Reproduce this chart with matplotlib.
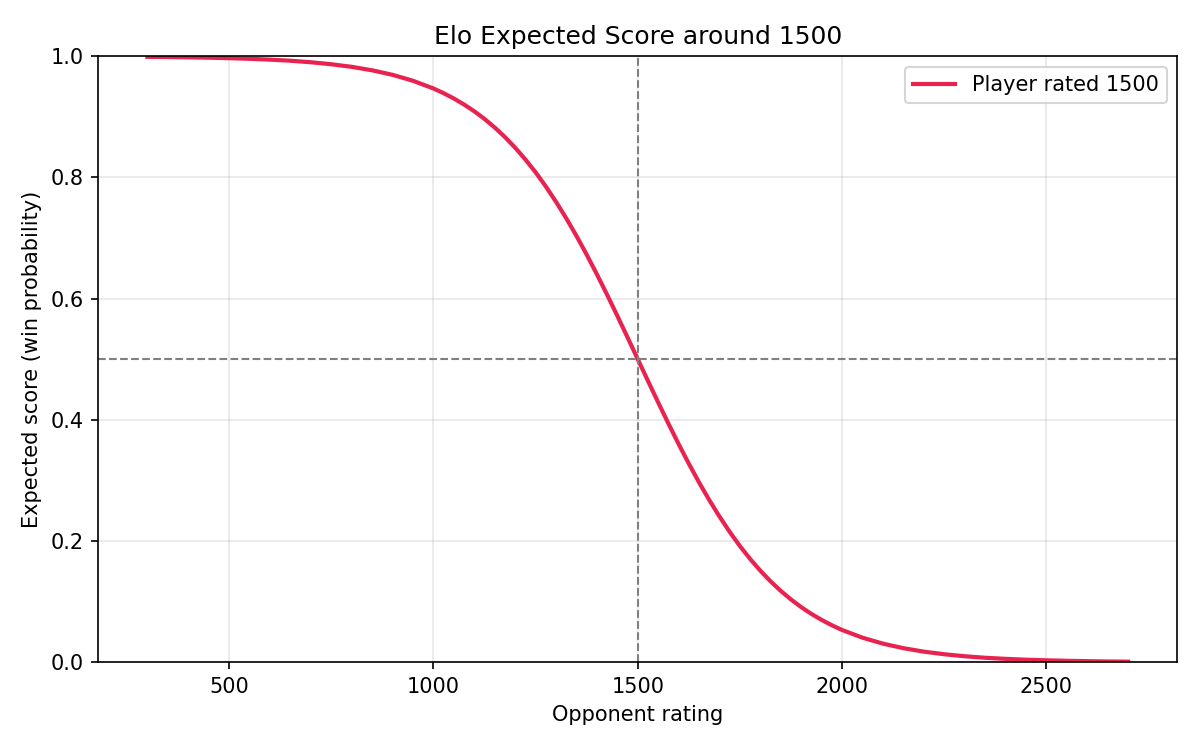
import matplotlib
matplotlib.use("Agg")
import matplotlib.pyplot as plt

opponent_rating = [300, 350, 400, 450, 500, 550, 600, 650, 700, 750, 800, 850, 900, 950,
                   1000, 1025, 1050, 1075, 1100, 1125, 1150, 1175, 1200, 1225, 1250, 1275,
                   1300, 1325, 1350, 1375, 1400, 1425, 1450, 1475, 1500,
                   1525, 1550, 1575, 1600, 1625, 1650, 1675, 1700, 1725, 1750, 1775,
                   1800, 1825, 1850, 1875, 1900, 1925, 1950, 1975, 2000, 2050,
                   2100, 2150, 2200, 2250, 2300, 2350, 2400, 2450, 2500, 2550, 2600,
                   2650, 2700]
expected_score = [0.9990, 0.9987, 0.9982, 0.9976, 0.9968, 0.9958, 0.9944, 0.9926, 0.9901,
                  0.9868, 0.9825, 0.9768, 0.9693, 0.9595,
                  0.9468, 0.9390, 0.9302, 0.9203, 0.9091, 0.8965, 0.8823, 0.8666,
                  0.8490, 0.8296, 0.8084, 0.7850, 0.7597, 0.7325, 0.7034, 0.6725,
                  0.6401, 0.6063, 0.5715, 0.5359, 0.5000,
                  0.4641, 0.4285, 0.3937, 0.3599, 0.3275, 0.2966, 0.2675, 0.2403, 0.2150,
                  0.1916, 0.1704, 0.1510, 0.1334, 0.1177, 0.1035, 0.0909, 0.0797, 0.0698,
                  0.0610, 0.0532, 0.0405, 0.0307, 0.0232, 0.0175, 0.0132, 0.0099, 0.0074,
                  0.0056, 0.0042, 0.0032, 0.0024, 0.0018, 0.0013, 0.0010]
player_rating = 1500

fig, ax = plt.subplots(figsize=(8, 5), dpi=150)
ax.plot(opponent_rating, expected_score, color="#e8234f", lw=2, label="Player rated 1500")
ax.axvline(player_rating, color="gray", ls="--", lw=1)
ax.axhline(0.5, color="gray", ls="--", lw=1)
ax.set_ylim(0, 1)
ax.grid(True, alpha=0.3)
ax.set_title("Elo Expected Score around 1500")
ax.set_xlabel("Opponent rating")
ax.set_ylabel("Expected score (win probability)")
ax.legend(loc="upper right")
fig.subplots_adjust(left=0.082, right=0.981, top=0.925, bottom=0.117)
fig.savefig("out.png")
